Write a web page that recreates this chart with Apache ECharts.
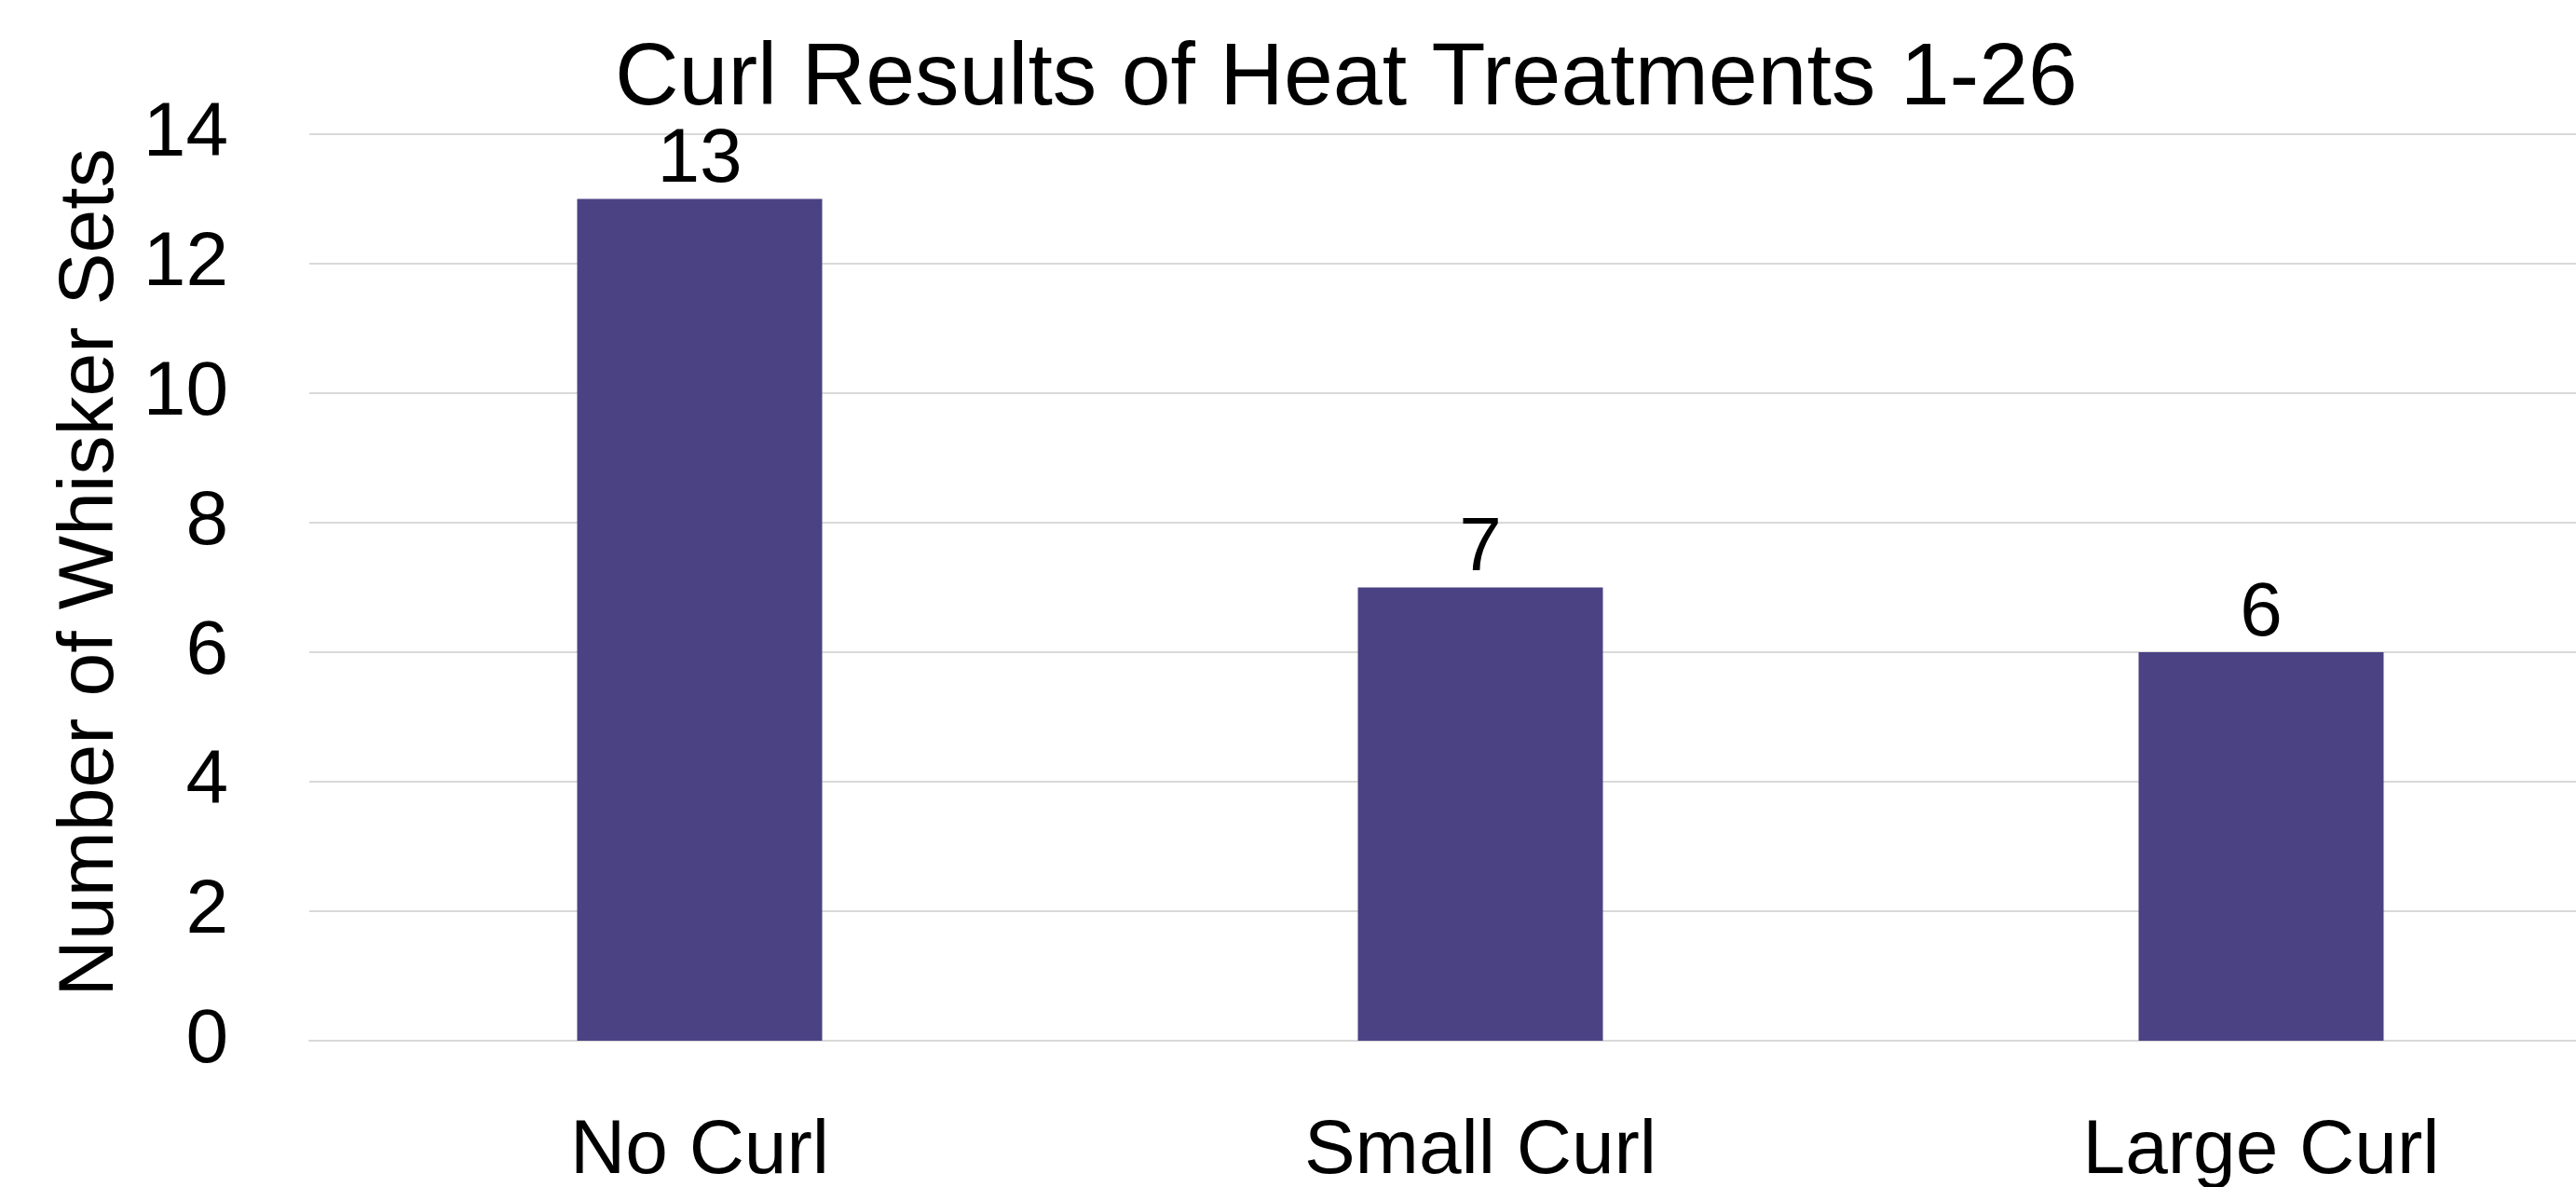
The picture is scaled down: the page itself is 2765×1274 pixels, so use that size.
<!DOCTYPE html>
<html>
<head>
<meta charset="utf-8">
<script src="https://cdn.jsdelivr.net/npm/echarts@6/dist/echarts.min.js"></script>
<style>
    html, body { margin: 0; padding: 0; background: #fff; }
    #myChart { width: 2765px; height: 1274px; }
</style>
</head>
<body>
<div id="myChart"></div>
<script>
    // chart data
    const categories = ['No Curl', 'Small Curl', 'Large Curl'];
    const counts = [13, 7, 6];
    const yTicks = [0, 2, 4, 6, 8, 10, 12, 14];

    const font = 'Liberation Sans, Arial, sans-serif';

    let myChart = echarts.init(document.getElementById('myChart'));

    myChart.setOption({
        animation: false,
        title: {
            text: 'Curl Results of Heat Treatments 1-26',
            left: 660,
            top: 38,
            padding: 0,
            textStyle: {
                fontFamily: font,
                fontSize: 95,
                fontWeight: 'normal',
                color: '#000'
            }
        },
        grid: {
            left: 332,
            right: -81,
            top: 144,
            bottom: 157,
            containLabel: false,
            outerBoundsMode: 'none'
        },
        xAxis: {
            type: 'category',
            data: categories,
            axisTick: { show: false },
            axisLine: { show: true, lineStyle: { color: '#d9d9d9', width: 2 } },
            axisLabel: {
                margin: 78,
                fontFamily: font,
                fontSize: 82,
                color: '#000'
            }
        },
        yAxis: {
            type: 'value',
            min: yTicks[0],
            max: yTicks[yTicks.length - 1],
            interval: yTicks[1] - yTicks[0],
            name: 'Number of Whisker Sets',
            nameLocation: 'middle',
            nameGap: 192,
            nameTextStyle: {
                fontFamily: font,
                fontSize: 84,
                color: '#000',
                padding: [0, 0, 0, 32]
            },
            axisLine: { show: false },
            axisTick: { show: false },
            axisLabel: {
                margin: 87,
                fontFamily: font,
                fontSize: 82,
                color: '#000'
            },
            splitLine: { lineStyle: { color: '#d9d9d9', width: 2 } }
        },
        series: [{
            type: 'bar',
            data: counts,
            barWidth: 263,
            itemStyle: { color: '#4b4283' },
            label: {
                show: true,
                position: 'top',
                distance: 0,
                fontFamily: font,
                fontSize: 82,
                color: '#000'
            }
        }]
    });
</script>
</body>
</html>
